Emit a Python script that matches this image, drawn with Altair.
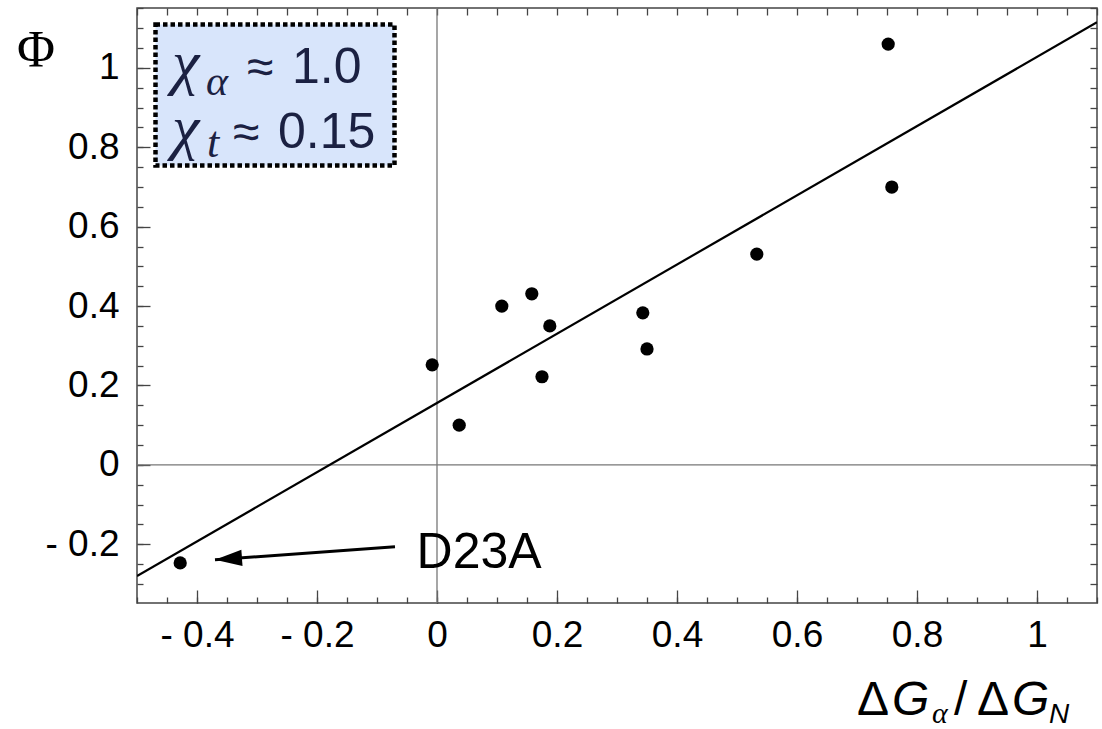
import altair as alt
import pandas as pd

# ---------------- data ----------------
dg_ratio = [-0.428, -0.008, 0.037, 0.108, 0.158, 0.188, 0.175, 0.343, 0.35, 0.533, 0.752, 0.758]
phi = [-0.247, 0.252, 0.100, 0.400, 0.431, 0.350, 0.222, 0.383, 0.292, 0.531, 1.060, 0.700]

fit_x = [-0.5, 1.1]
fit_y = [-0.28, 1.115]

x_major = [-0.4, -0.2, 0.0, 0.2, 0.4, 0.6, 0.8, 1.0]
y_major = [-0.2, 0.0, 0.2, 0.4, 0.6, 0.8, 1.0]
x_minor = [round(-0.5 + 0.05 * i, 2) for i in range(33)]
y_minor = [round(-0.35 + 0.05 * i, 2) for i in range(31)]

annot_label = ["D23A"]
annot_x = [-0.034]
annot_y = [-0.259]
arrow_x = [-0.07, -0.37]
arrow_y = [-0.2065, -0.239]

zero_line = [0.0]

# ---------------- frames ----------------
pts = pd.DataFrame({"x": dg_ratio, "y": phi})
fit = pd.DataFrame({"x": fit_x, "y": fit_y})
ann = pd.DataFrame({"x": annot_x, "y": annot_y, "t": annot_label})
arr = pd.DataFrame({"x": arrow_x, "y": arrow_y, "o": [0, 1]})
tip = pd.DataFrame({"x": [arrow_x[1]], "y": [arrow_y[1]]})
zero = pd.DataFrame({"v": zero_line})
one = pd.DataFrame({"a": [0]})

SANS = "Liberation Sans"
SERIF = "Liberation Serif"
FRAME = "#444444"

xs = alt.Scale(domain=[-0.5, 1.1], nice=False, zero=False)
ys = alt.Scale(domain=[-0.348, 1.151], nice=False, zero=False)

LABEL_EXPR = "datum.value < 0 ? '- ' + format(-datum.value, '.1~f') : format(datum.value, '.1~f')"


def label_axis(orient, values):
    return alt.Axis(orient=orient, values=values, ticks=False, domain=False, grid=False,
                    labelFont=SANS, labelFontSize=37, labelColor="black",
                    labelPadding=18 if orient == "left" else 14,
                    labelExpr=LABEL_EXPR, labelFlush=False, labelOverlap=False,
                    labelBound=False, title=None)


def tick_axis(orient, values, size):
    return alt.Axis(orient=orient, values=values, tickSize=size, offset=-size,
                    labels=False, domain=False, grid=False, title=None,
                    tickColor=FRAME, tickWidth=1.3)


# zero lines
vzero = alt.Chart(zero).mark_rule(color="#777777", strokeWidth=1.3).encode(
    x=alt.X("v:Q", scale=xs, axis=None))
hzero = alt.Chart(zero).mark_rule(color="#777777", strokeWidth=1.3).encode(
    y=alt.Y("v:Q", scale=ys, axis=None))

# fit line (carries major tick axes)
fit_line = alt.Chart(fit).mark_line(color="black", strokeWidth=2.2, clip=True).encode(
    x=alt.X("x:Q", scale=xs, axis=tick_axis("bottom", x_major, 13)),
    y=alt.Y("y:Q", scale=ys, axis=tick_axis("left", y_major, 13)))

# data points (carry labelled axes)
points = alt.Chart(pts).mark_circle(color="black", size=175, opacity=1).encode(
    x=alt.X("x:Q", scale=xs, axis=label_axis("bottom", x_major)),
    y=alt.Y("y:Q", scale=ys, axis=label_axis("left", y_major)))

# invisible layers carrying minor tick axes
minor_bl = alt.Chart(pts).mark_point(opacity=0).encode(
    x=alt.X("x:Q", scale=xs, axis=tick_axis("bottom", x_minor, 6)),
    y=alt.Y("y:Q", scale=ys, axis=tick_axis("left", y_minor, 6)))
minor_tr = alt.Chart(pts).mark_point(opacity=0).encode(
    x=alt.X("x:Q", scale=xs, axis=tick_axis("top", x_minor, 7)),
    y=alt.Y("y:Q", scale=ys, axis=tick_axis("right", y_minor, 7)))

# annotation D23A with arrow
ann_text = alt.Chart(ann).mark_text(font=SANS, fontSize=50, align="left",
                                    baseline="alphabetic", color="black").encode(
    x=alt.X("x:Q", scale=xs, axis=None), y=alt.Y("y:Q", scale=ys, axis=None), text="t:N")
arrow_line = alt.Chart(arr).mark_line(color="black", strokeWidth=3).encode(
    x=alt.X("x:Q", scale=xs, axis=None), y=alt.Y("y:Q", scale=ys, axis=None), order="o:Q")
arrow_head = alt.Chart(tip).mark_point(shape="M0,0 L2,-0.6 L2,0.6 Z", filled=True,
                                       color="black", opacity=1, size=729, angle=356).encode(
    x=alt.X("x:Q", scale=xs, axis=None), y=alt.Y("y:Q", scale=ys, axis=None))

# inset box
box = alt.Chart(one).mark_rect(fill="#d8e5fb", stroke="black", strokeWidth=4.5,
                               strokeDash=[4.5, 3]).encode(
    x=alt.value(18.5), x2=alt.value(257.5), y=alt.value(16.5), y2=alt.value(157.5))

NAVY = "#1b2142"


def txt(s, px, py, size, font=SANS, style="normal", color="black", align="left"):
    return alt.Chart(one).mark_text(text=s, font=font, fontSize=size, fontStyle=style,
                                    align=align, baseline="alphabetic", color=color).encode(
        x=alt.value(px), y=alt.value(py))


inset_texts = [
    txt("χ", 35, 75, 62, SERIF, "italic", NAVY),
    txt("α", 69, 87, 42, SERIF, "italic", NAVY),
    txt("≈", 110, 75, 48, SANS, "normal", NAVY),
    txt("1.0", 155, 75, 50, SANS, "normal", NAVY),
    txt("χ", 35, 140, 62, SERIF, "italic", NAVY),
    txt("t", 70, 149, 44, SERIF, "italic", NAVY),
    txt("≈", 96, 140, 48, SANS, "normal", NAVY),
    txt("0.15", 141, 140, 50, SANS, "normal", NAVY),
]

title_texts = [
    txt("Φ", -101, 59, 52, SERIF, "normal", "black", "center"),
    txt("Δ", 720, 707, 48, SANS),
    txt("G", 755, 707, 48, SANS, "italic"),
    txt("α", 795, 715, 30, SERIF, "italic"),
    txt("/", 817, 707, 48, SANS),
    txt("Δ", 840, 707, 48, SANS),
    txt("G", 875, 707, 48, SANS, "italic"),
    txt("N", 912, 715, 28, SANS, "italic"),
]

chart = alt.layer(
    vzero, hzero, minor_bl, minor_tr, fit_line, points, arrow_line, arrow_head, ann_text,
    box, *inset_texts, *title_texts
).resolve_axis(x="independent", y="independent").properties(
    width=960, height=595,
    autosize=alt.AutoSizeParams(type="none"),
    padding={"left": 137, "top": 8, "right": 5, "bottom": 126},
    background="white",
).configure_view(stroke=FRAME, strokeWidth=1.5)

chart.save("out.html", embed_options={"renderer": "svg", "actions": False})
